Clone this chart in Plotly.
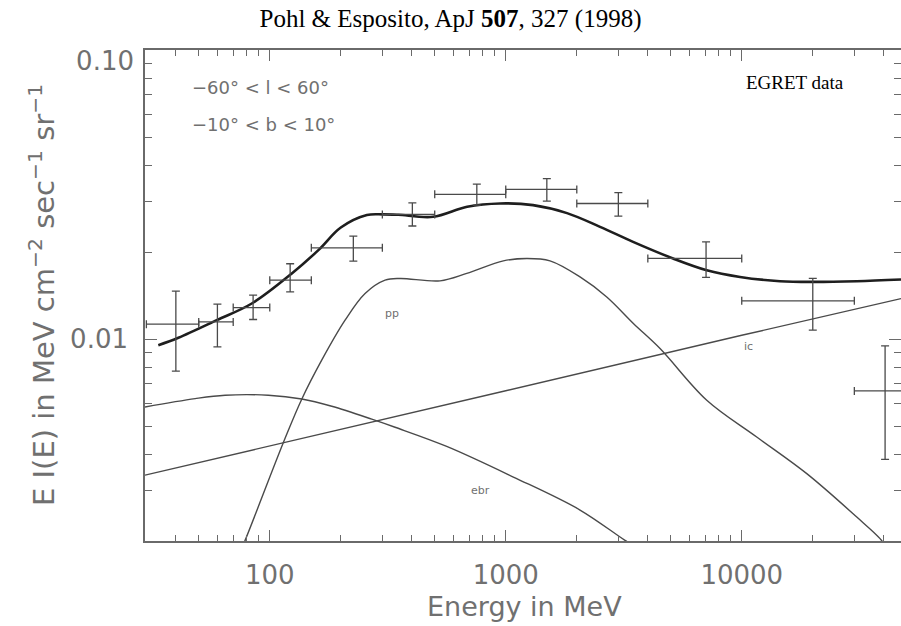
import math
import plotly.graph_objects as go

# ---------------- data ----------------
# EGRET data points: energy (MeV), bin edges, E I(E), error bounds
egret_E    = [40, 60, 85, 122, 226, 402, 754, 1493, 3000, 7060, 20000, 40500]
egret_Elo  = [30, 50, 70, 100, 150, 300, 500, 1000, 2000, 4000, 10000, 30000]
egret_Ehi  = [50, 70, 100, 150, 300, 500, 1000, 2000, 4000, 10000, 30000, 55000]
egret_val  = [0.01125, 0.01146, 0.01285, 0.01598, 0.02067, 0.02698, 0.03166,
              0.03294, 0.02944, 0.0190, 0.01355, 0.00661]
egret_lo   = [0.00774, 0.00939, 0.01168, 0.01456, 0.0186, 0.0246, 0.02906,
              0.0300, 0.0266, 0.01633, 0.01073, 0.00383]
egret_hi   = [0.01464, 0.0132, 0.01418, 0.01821, 0.0227, 0.0296, 0.03436,
              0.0359, 0.0321, 0.02168, 0.0162, 0.00946]

# total model
total_E = [33.7, 41, 59.6, 83.9, 124, 160.7, 200, 258, 302, 350, 492, 686, 946,
           1305, 1818, 2509, 3463, 5116, 7108, 9836, 14530, 20110, 30720, 47300]
total_v = [0.00952, 0.0101, 0.01162, 0.01327, 0.01686, 0.0203, 0.0243, 0.02685,
           0.02699, 0.0269, 0.02647, 0.02867, 0.02945, 0.02905, 0.02726, 0.02444,
           0.02169, 0.0190, 0.0173, 0.0164, 0.01585, 0.01576, 0.01585, 0.01607]

# pion-decay (pp) component
pp_E = [72, 78.6, 116, 136.6, 166, 208.5, 253.4, 308, 356.5, 526.7, 683.5, 976.8,
        1227, 1540, 2064, 2679, 3474, 4506, 7108, 11575, 18860, 30720, 38550, 42000]
pp_v = [0.0017, 0.00201, 0.004523, 0.00619, 0.00845, 0.01162, 0.01437, 0.01598,
        0.0162, 0.01589, 0.01686, 0.01864, 0.0190, 0.01864, 0.0164, 0.01398,
        0.01132, 0.00927, 0.00614, 0.00458, 0.00342, 0.00242, 0.002038, 0.00185]

# electron bremsstrahlung (ebr) component
ebr_E = [29.6, 48.3, 64.7, 98.6, 136.6, 183.1, 270.5, 339.6, 562, 1077, 2064, 3202, 3600]
ebr_v = [0.00582, 0.00622, 0.00639, 0.00639, 0.0062, 0.00585, 0.00528, 0.00495,
         0.00425, 0.00333, 0.00256, 0.00201, 0.0019]

# inverse Compton (ic) component
ic_E = [29.6, 100, 1000, 10000, 47300]
ic_v = [0.00338, 0.00426, 0.00662, 0.0103, 0.0138]

x_major = [100, 1000, 10000]
x_major_text = ["100", "1000", "10000"]
x_minor = [40, 50, 60, 70, 80, 90, 200, 300, 400, 500, 600, 700, 800, 900,
           2000, 3000, 4000, 5000, 6000, 7000, 8000, 9000, 20000, 30000, 40000]
y_major_low = [0.01]
y_major_low_text = ["0.01"]
y_major_top = [0.1]
y_major_top_text = ["0.10"]
y_minor = [0.003, 0.004, 0.005, 0.006, 0.007, 0.008, 0.009,
           0.02, 0.03, 0.04, 0.05, 0.06, 0.07, 0.08, 0.09]

x_range = [29.6, 47300]
y_range = [0.002, 0.1]

# ---------------- figure ----------------
LINE = "#4a4a4a"
AX = "#6a6a6a"
TXT = "#707070"
IDL_FONT = "DejaVu Sans"

W, H = 901, 626
ML, MR, MT, MB = 145, 0, 50, 85
pw, ph = W - ML - MR, H - MT - MB

fig = go.Figure()

fig.add_trace(go.Scatter(x=ic_E, y=ic_v, mode="lines",
                         line=dict(color=LINE, width=1.4), hoverinfo="skip"))
fig.add_trace(go.Scatter(x=ebr_E, y=ebr_v, mode="lines", line_shape="spline",
                         line=dict(color=LINE, width=1.4), hoverinfo="skip"))
fig.add_trace(go.Scatter(x=pp_E, y=pp_v, mode="lines", line_shape="spline",
                         line=dict(color=LINE, width=1.4), hoverinfo="skip"))
fig.add_trace(go.Scatter(x=total_E, y=total_v, mode="lines", line_shape="spline",
                         line=dict(color="#1e1e1e", width=2.6), hoverinfo="skip"))

fig.add_trace(go.Scatter(
    x=egret_E, y=egret_val, mode="markers",
    marker=dict(size=1, color=LINE, opacity=0),
    error_x=dict(type="data", symmetric=False,
                 array=[h - e for h, e in zip(egret_Ehi, egret_E)],
                 arrayminus=[e - l for e, l in zip(egret_E, egret_Elo)],
                 color=LINE, thickness=1.3, width=4),
    error_y=dict(type="data", symmetric=False,
                 array=[h - v for h, v in zip(egret_hi, egret_val)],
                 arrayminus=[v - l for v, l in zip(egret_val, egret_lo)],
                 color=LINE, thickness=1.3, width=4),
    hoverinfo="skip"))

# invisible trace for the overlay axis carrying the top label
fig.add_trace(go.Scatter(x=[100], y=[0.01], yaxis="y2", mode="markers",
                         marker=dict(opacity=0), hoverinfo="skip"))

L = math.log10

def ann(x, y, text, size, font=IDL_FONT, color=TXT, xanchor="left"):
    fig.add_annotation(x=L(x), y=L(y), xref="x", yref="y", text=text,
                       showarrow=False, xanchor=xanchor, yanchor="middle",
                       font=dict(family=font, size=size, color=color))

ann(45.9, 0.0739, "−60° &lt; l &lt; 60°", 18)
ann(45.9, 0.0554, "−10° &lt; b &lt; 10°", 18)
ann(16820, 0.0769, "EGRET data", 19, font="Liberation Serif", color="#000000",
    xanchor="center")
ann(329, 0.01226, "pp", 11, xanchor="center")
ann(778, 0.002996, "ebr", 11, xanchor="center")
ann(10670, 0.00939, "ic", 11, xanchor="center")

# axis titles (positions given in pixels, converted to paper coordinates)
fig.add_annotation(text="Energy in MeV", x=(524 - ML) / pw,
                   y=-(606 - (H - MB)) / ph, xref="paper", yref="paper",
                   xanchor="center", yanchor="middle", showarrow=False,
                   font=dict(family=IDL_FONT, size=27, color=TXT))
fig.add_annotation(
    text="E I(E) in MeV cm<sup>−2</sup> sec<sup>−1</sup> sr<sup>−1</sup>",
    x=(42 - ML) / pw, y=(H - MB - 295) / ph, xref="paper", yref="paper",
    xanchor="center", yanchor="middle", showarrow=False, textangle=-90,
    font=dict(family=IDL_FONT, size=29, color=TXT))

axis_common = dict(
    type="log", showgrid=False, zeroline=False, automargin=False,
    showline=True, linecolor=AX, linewidth=1.6, mirror="ticks",
    ticks="inside", tickcolor=AX, tickwidth=1.3,
    tickfont=dict(family=IDL_FONT, size=26, color=TXT),
)

fig.update_layout(
    width=W, height=H, autosize=False,
    margin=dict(l=ML, r=MR, t=MT, b=MB, autoexpand=False),
    paper_bgcolor="white", plot_bgcolor="white",
    showlegend=False,
    title=dict(text="Pohl &amp; Esposito, ApJ <b>507</b>, 327 (1998)",
               x=0.5, xanchor="center", xref="container", y=1 - 18 / H,
               yanchor="middle", yref="container",
               font=dict(family="Liberation Serif", size=25, color="#000000")),
    xaxis=dict(range=[L(x_range[0]), L(x_range[1])], tickmode="array",
               tickvals=x_major, ticktext=x_major_text, ticklen=11,
               ticklabelstandoff=10,
               minor=dict(tickmode="array", tickvals=x_minor, ticks="inside",
                          ticklen=6, tickcolor=AX, tickwidth=1.2),
               **axis_common),
    yaxis=dict(range=[L(y_range[0]), L(y_range[1])], tickmode="array",
               tickvals=y_major_low, ticktext=y_major_low_text, ticklen=12,
               ticklabelstandoff=10,
               minor=dict(tickmode="array", tickvals=y_minor, ticks="inside",
                          ticklen=7, tickcolor=AX, tickwidth=1.2),
               **axis_common),
    yaxis2=dict(type="log", overlaying="y", side="left", automargin=False,
                range=[L(y_range[0]), L(y_range[1])], tickmode="array",
                tickvals=y_major_top, ticktext=y_major_top_text,
                showline=False, showgrid=False, zeroline=False, ticks="inside",
                ticklen=12, tickcolor=AX, tickwidth=1.3,
                ticklabelstandoff=10, ticklabelshift=11,
                tickfont=dict(family=IDL_FONT, size=26, color=TXT)),
)

fig.write_html(
    "out.html",
    config={"responsive": False, "displayModeBar": False},
    post_script="document.body.style.margin='0px';"
                "document.body.style.overflow='hidden';",
)
